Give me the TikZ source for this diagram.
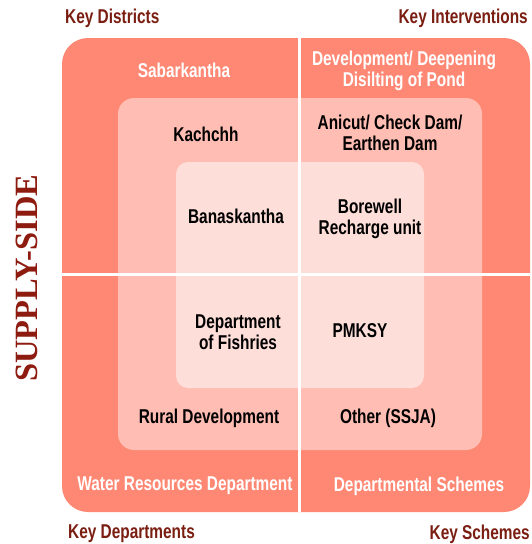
\documentclass[tikz,border=0pt]{standalone}
\usepackage{fontspec}
\setmainfont{Liberation Sans}[FakeStretch=0.77]
\newfontfamily\sidefont{Liberation Serif}
\definecolor{outerc}{HTML}{FF8874}
\definecolor{midc}{HTML}{FFBDB3}
\definecolor{innerc}{HTML}{FDDED8}
\definecolor{titlec}{HTML}{7B1E12}
\definecolor{sidec}{HTML}{8E1B10}
\tikzset{
  base/.style={font=\fontsize{20}{21}\selectfont\bfseries, align=center, inner sep=0pt},
  whitetxt/.style={base, text=white},
  blacktxt/.style={base, text=black},
  keytxt/.style={base, text=titlec},
  divider/.style={draw=white, line width=3pt}
}
\begin{document}
\begin{tikzpicture}[x=1pt,y=-1pt]
\useasboundingbox (0,0) rectangle (531,544);
% boxes
\fill[outerc, rounded corners=26pt] (62,38) rectangle (530,512);
\fill[midc, rounded corners=16pt] (118,98) rectangle (482,450);
\fill[innerc, rounded corners=12pt] (176,162) rectangle (424,388);
% dividers
\coordinate (vt) at (299,38);
\coordinate (vb) at (299,512);
\coordinate (hl) at (62,274);
\coordinate (hr) at (530,274);
\draw[divider] (vt) -- (vb);
\draw[divider] (hl) -- (hr);
% corner labels
\node[keytxt, anchor=west] (kd) at (65,18) {Key Districts};
\node[keytxt, anchor=east] (ki) at (528,18) {Key Interventions};
\node[keytxt, anchor=west] (kdep) at (68,534) {Key Departments};
\node[keytxt, anchor=east] (ks) at (530,534) {Key Schemes};
% side label
\node[text=sidec, font=\sidefont\fontsize{32.5}{34}\selectfont\bfseries, rotate=90, inner sep=0pt] (side) at (27,278) {SUPPLY-SIDE};
% outer texts
\node[whitetxt] (sab) at (184,70) {Sabarkantha};
\node[whitetxt] (dev) at (404,71) {Development/ Deepening\\Disilting of Pond};
\node[whitetxt] (wrd) at (185,486) {Water Resources Department};
\node[whitetxt] (ds) at (419,486) {Departmental Schemes};
% middle texts
\node[blacktxt] (kac) at (206,134) {Kachchh};
\node[blacktxt] (ani) at (390,133) {Anicut/ Check Dam/\\Earthen Dam};
\node[blacktxt] (rd) at (209,418) {Rural Development};
\node[blacktxt] (oth) at (388,418) {Other (SSJA)};
% inner texts
\node[blacktxt] (ban) at (236,216) {Banaskantha};
\node[blacktxt] (bor) at (370,219) {Borewell\\Recharge unit};
\node[blacktxt] (dof) at (238,332) {Department\\of Fishries};
\node[blacktxt] (pmk) at (360,331) {PMKSY};
\end{tikzpicture}
\end{document}
